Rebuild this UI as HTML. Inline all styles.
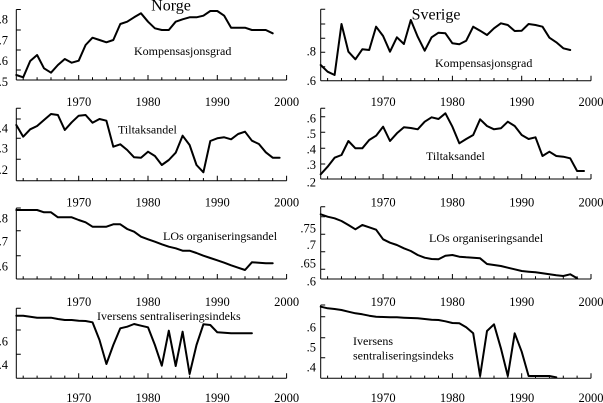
<!DOCTYPE html>
<html><head><meta charset="utf-8"><style>
html,body{margin:0;padding:0;background:#fff;}
svg{display:block;}
text{font-family:"Liberation Serif",serif;fill:#000;}
.t{font-size:12.5px;text-anchor:middle;}
.y{font-size:12.5px;text-anchor:end;}
.l{font-size:12px;}
.ttl{font-size:16px;text-anchor:middle;}
.d{fill:none;stroke:#000;stroke-width:2;stroke-linejoin:round;stroke-linecap:round;}
.a{fill:none;stroke:#000;stroke-width:1;}
</style></head><body>
<svg width="603" height="403" viewBox="0 0 603 403" xmlns="http://www.w3.org/2000/svg">
<defs>
<g id="xt">
<path class="a" d="M0,0H270.3 M6.9,0v-2.7 M20.8,0v-2.7 M34.7,0v-2.7 M48.5,0v-2.7 M76.2,0v-2.7 M90.1,0v-2.7 M104,0v-2.7 M117.8,0v-2.7 M145.5,0v-2.7 M159.4,0v-2.7 M173.3,0v-2.7 M187.1,0v-2.7 M214.8,0v-2.7 M228.7,0v-2.7 M242.6,0v-2.7 M256.4,0v-2.7 M62.4,0v-5 M131.7,0v-5 M201,0v-5 M270.3,0v-5"/>
</g>
</defs>

<!-- Titles -->
<text class="ttl" x="171" y="10.5">Norge</text>
<text class="ttl" x="436" y="19.5">Sverige</text>

<!-- ===== Panel 1 ===== -->
<use href="#xt" transform="translate(16.3,80)"/>
<path class="a" d="M16.3,9.5V80 M16.3,9.5h4.5 M16.3,30h4.5 M16.3,50h4.5 M16.3,70h4.5"/>
<text class="y" x="8" y="23.5">.8</text><text class="y" x="8" y="44.5">.7</text><text class="y" x="8" y="65">.6</text><text class="y" x="8" y="86">.5</text>
<text class="t" x="78.7" y="106">1970</text><text class="t" x="148" y="106">1980</text><text class="t" x="217.3" y="106">1990</text><text class="t" x="286.6" y="106">2000</text>
<polyline class="d" points="16.3,75 23.2,77.3 30.2,61 37.1,55 44.0,68.3 51.0,72.7 57.9,65 64.8,59 71.7,62.7 78.7,60.7 85.6,45 92.5,37.7 99.5,40 106.4,42.3 113.3,40 120.3,24 127.2,21.7 134.1,17.3 141.0,13.3 148.0,21.7 154.9,28.3 161.8,30 168.8,30 175.7,21.7 182.6,19.3 189.6,17.3 196.5,17.3 203.4,15.7 210.3,11 217.3,11 224.2,15.7 231.1,27.7 238.1,27.7 245.0,27.7 251.9,30 258.9,30 265.8,30 272.7,33.3"/>
<text class="l" x="134" y="55">Kompensasjonsgrad</text>

<use href="#xt" transform="translate(320.7,80.7)"/>
<path class="a" d="M320.7,9.3V80.7 M320.7,9.3h4.5 M320.7,24h4.5 M320.7,38.3h4.5 M320.7,52.3h4.5 M320.7,66.7h4.5"/>
<text class="y" x="316" y="55.7">.8</text><text class="y" x="316" y="85">.6</text>
<text class="t" x="383.1" y="106">1970</text><text class="t" x="452.4" y="106">1980</text><text class="t" x="521.7" y="106">1990</text><text class="t" x="591" y="106">2000</text>
<polyline class="d" points="320.7,65 327.6,71.7 334.6,75 341.5,24 348.4,51.7 355.4,59.3 362.3,49.3 369.2,50 376.1,26.7 383.1,36 390.0,51.7 396.9,37.3 403.9,44 410.8,20 417.7,36.7 424.7,50.7 431.6,37.3 438.5,32.7 445.4,33.3 452.4,43.3 459.3,44.3 466.2,40.7 473.2,26.7 480.1,30.7 487.0,35 494.0,28.3 500.9,23.3 507.8,25 514.7,31 521.7,30.7 528.6,24 535.5,25 542.5,26.7 549.4,37.7 556.3,42.3 563.3,48.3 570.2,50"/>
<text class="l" x="435" y="67">Kompensasjonsgrad</text>

<!-- ===== Panel 2 ===== -->
<use href="#xt" transform="translate(16.3,180.7)"/>
<path class="a" d="M16.3,108.3V180.7 M16.3,108.3h4.5 M16.3,119h4.5 M16.3,138.3h4.5 M16.3,159.3h4.5"/>
<text class="y" x="8" y="132.3">.4</text><text class="y" x="8" y="152.3">.3</text><text class="y" x="8" y="174">.2</text>
<text class="t" x="78.7" y="206.5">1970</text><text class="t" x="148" y="206.5">1980</text><text class="t" x="217.3" y="206.5">1990</text><text class="t" x="286.6" y="206.5">2000</text>
<polyline class="d" points="16.3,125 23.2,136.7 30.2,129.3 37.1,126 44.0,120 51.0,114 57.9,115 64.8,130 71.7,122.3 78.7,115.7 85.6,115 92.5,122.7 99.5,119 106.4,120.7 113.3,146.7 120.3,144.3 127.2,150 134.1,157.3 141.0,157.7 148.0,151.7 154.9,156 161.8,165 168.8,160 175.7,152.7 182.6,135.7 189.6,145 196.5,165 203.4,172.3 210.3,141 217.3,138.3 224.2,137.3 231.1,139.3 238.1,134 245.0,131.7 251.9,140.7 258.9,144 265.8,152.3 272.7,157.7 279.6,157.7"/>
<text class="l" x="118" y="133.5">Tiltaksandel</text>

<use href="#xt" transform="translate(320.7,179)"/>
<path class="a" d="M320.7,108.3V179 M320.7,108.3h4.5 M320.7,116.7h4.5 M320.7,132.3h4.5 M320.7,148.3h4.5 M320.7,164h4.5"/>
<text class="y" x="316" y="122.3">.6</text><text class="y" x="316" y="138">.5</text><text class="y" x="316" y="153.3">.4</text><text class="y" x="316" y="169">.3</text><text class="y" x="316" y="186.3">.2</text>
<text class="t" x="383.1" y="206.5">1970</text><text class="t" x="452.4" y="206.5">1980</text><text class="t" x="521.7" y="206.5">1990</text><text class="t" x="591" y="206.5">2000</text>
<polyline class="d" points="320.7,174.3 327.6,166.7 334.6,157.7 341.5,155 348.4,141 355.4,148.3 362.3,148.3 369.2,140 376.1,135.7 383.1,126.7 390.0,141 396.9,133.3 403.9,127.3 410.8,128 417.7,129.3 424.7,121.7 431.6,117.3 438.5,119 445.4,113.3 452.4,126.7 459.3,143.3 466.2,139 473.2,135 480.1,119.3 487.0,126 494.0,129.3 500.9,128.3 507.8,121.7 514.7,126 521.7,135 528.6,139 535.5,137.3 542.5,156 549.4,151.7 556.3,156 563.3,156.7 570.2,158.3 577.1,171 584.0,171"/>
<text class="l" x="426" y="160">Tiltaksandel</text>

<!-- ===== Panel 3 ===== -->
<use href="#xt" transform="translate(16.3,279)"/>
<path class="a" d="M16.3,208V279 M16.3,208h4.5 M16.3,230.7h4.5 M16.3,255.7h4.5"/>
<text class="y" x="8" y="222.3">.8</text><text class="y" x="8" y="245.7">.7</text><text class="y" x="8" y="270.7">.6</text>
<text class="t" x="78.7" y="306">1970</text><text class="t" x="148" y="306">1980</text><text class="t" x="217.3" y="306">1990</text><text class="t" x="286.6" y="306">2000</text>
<polyline class="d" points="16.3,210 23.2,210 30.2,210 37.1,210 44.0,212.3 51.0,212.3 57.9,217.3 64.8,217.3 71.7,217.3 78.7,220 85.6,222.3 92.5,226.7 99.5,226.7 106.4,226.7 113.3,224.3 120.3,224.3 127.2,229 134.1,231.7 141.0,236.7 148.0,239.3 154.9,241.7 161.8,244.3 168.8,246.7 175.7,248.3 182.6,250.7 189.6,250.7 196.5,253 203.4,255.7 210.3,258 217.3,260.3 224.2,262.7 231.1,265.3 238.1,267.7 245.0,270 251.9,262.3 258.9,262.7 265.8,263.3 272.7,263.3"/>
<text class="l" x="163" y="240">LOs organiseringsandel</text>

<use href="#xt" transform="translate(320.7,279)"/>
<path class="a" d="M320.7,206.7V279 M320.7,206.7h4.5 M320.7,216.8h4.5 M320.7,234.3h4.5 M320.7,251.7h4.5 M320.7,269.3h4.5"/>
<text class="y" x="316" y="232.3">.75</text><text class="y" x="316" y="249">.7</text><text class="y" x="316" y="267.3">.65</text><text class="y" x="316" y="285.7">.6</text>
<text class="t" x="383.1" y="306">1970</text><text class="t" x="452.4" y="306">1980</text><text class="t" x="521.7" y="306">1990</text><text class="t" x="591" y="306">2000</text>
<polyline class="d" points="320.7,214.3 327.6,216.7 334.6,218.3 341.5,221 348.4,225 355.4,229.3 362.3,225 369.2,227.3 376.1,229.7 383.1,239.3 390.0,242.7 396.9,245 403.9,248.3 410.8,251 417.7,255 424.7,257.7 431.6,259 438.5,259.3 445.4,255.7 452.4,255 459.3,256.7 466.2,257.3 473.2,257.7 480.1,258.3 487.0,264 494.0,265 500.9,266 507.8,267.7 514.7,269.3 521.7,271 528.6,271.7 535.5,272.3 542.5,273.3 549.4,274.3 556.3,275.3 563.3,276 570.2,274.3 577.1,278.3"/>
<text class="l" x="429" y="242">LOs organiseringsandel</text>

<!-- ===== Panel 4 ===== -->
<use href="#xt" transform="translate(16.3,378.3)"/>
<path class="a" d="M16.3,308.3V378.3 M16.3,308.3h4.5 M16.3,330h4.5 M16.3,354.3h4.5"/>
<text class="y" x="8" y="345.7">.6</text><text class="y" x="8" y="369">.4</text>
<text class="t" x="78.7" y="402">1970</text><text class="t" x="148" y="402">1980</text><text class="t" x="217.3" y="402">1990</text><text class="t" x="286.6" y="402">2000</text>
<polyline class="d" points="16.3,315.7 23.2,315.7 30.2,316.7 37.1,317.7 44.0,317.7 51.0,317.7 57.9,319 64.8,320 71.7,320 78.7,320.7 85.6,321 92.5,322.3 99.5,340 106.4,364 113.3,345 120.3,328.3 127.2,326.7 134.1,324 141.0,325.7 148.0,327.3 154.9,345 161.8,365.7 168.8,330.7 175.7,366 182.6,331.7 189.6,374 196.5,345 203.4,324.3 210.3,325 217.3,332.3 224.2,332.7 231.1,333.3 238.1,333.3 245.0,333.3 251.9,333.3"/>
<text class="l" x="97" y="320">Iversens sentraliseringsindeks</text>

<use href="#xt" transform="translate(320.7,378.3)"/>
<path class="a" d="M320.7,305V378.3 M320.7,305h4.5 M320.7,316.7h4.5 M320.7,337.7h4.5 M320.7,357.7h4.5"/>
<text class="y" x="316" y="331.3">.6</text><text class="y" x="316" y="351.3">.5</text><text class="y" x="316" y="371.7">.4</text>
<text class="t" x="383.1" y="402">1970</text><text class="t" x="452.4" y="402">1980</text><text class="t" x="521.7" y="402">1990</text><text class="t" x="591" y="402">2000</text>
<polyline class="d" points="320.7,306.7 327.6,308.3 334.6,309 341.5,310 348.4,311.7 355.4,313.3 362.3,314.3 369.2,315.7 376.1,316.7 383.1,317 390.0,317.3 396.9,317.3 403.9,317.7 410.8,318 417.7,318.3 424.7,319 431.6,319.7 438.5,320 445.4,321.3 452.4,323 459.3,323.3 466.2,327.3 473.2,333.3 480.1,376 487.0,331 494.0,324.3 500.9,348.3 507.8,376 514.7,333.3 521.7,351.7 528.6,376 535.5,376 542.5,376 549.4,376 556.3,377.3"/>
<text class="l" x="353" y="345">Iversens</text>
<text class="l" x="353" y="359.5">sentraliseringsindeks</text>
</svg>
</body></html>
